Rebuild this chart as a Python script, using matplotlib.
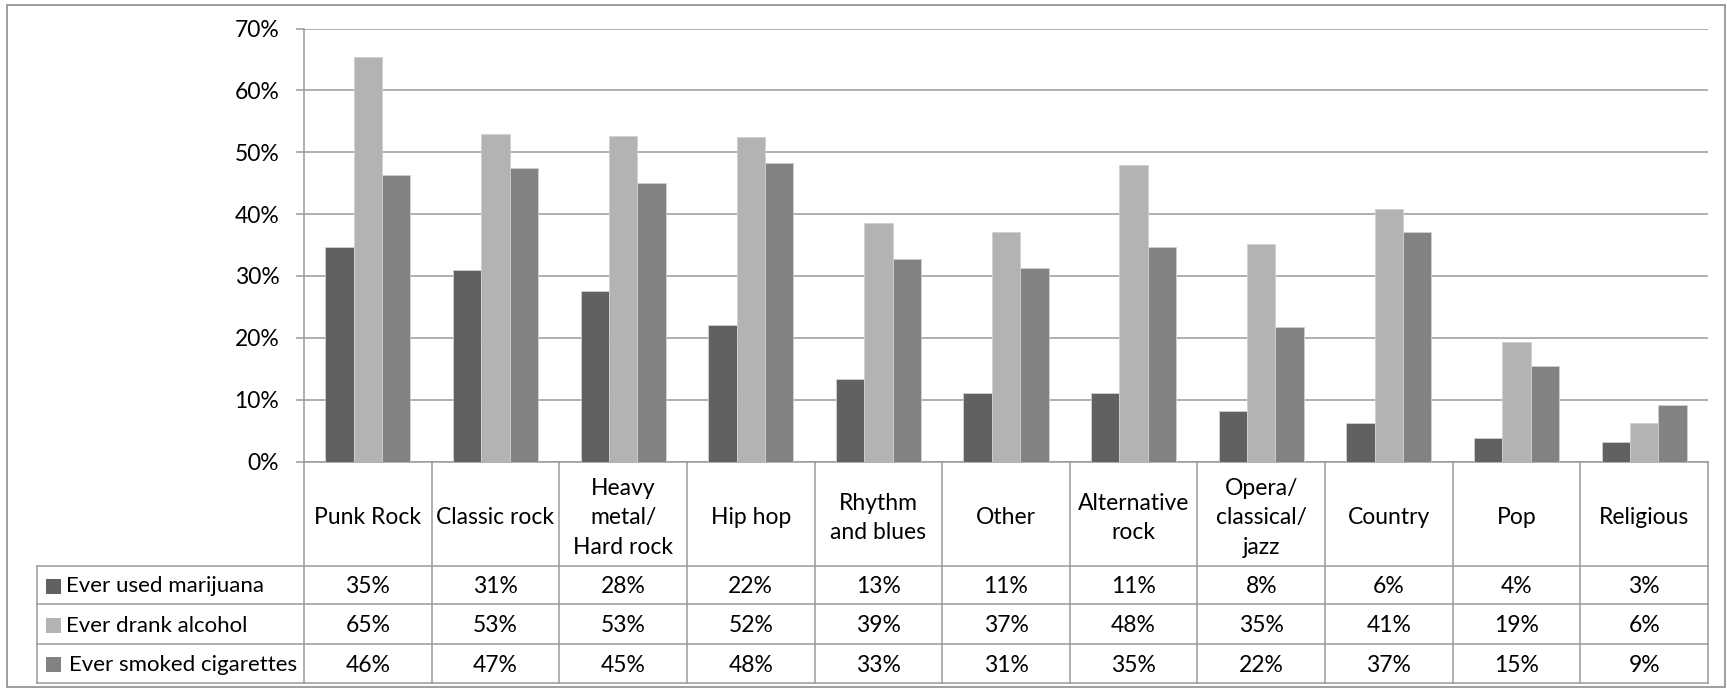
import matplotlib
matplotlib.use("Agg")
import matplotlib.pyplot as plt
from matplotlib.patches import Rectangle
from matplotlib.transforms import blended_transform_factory
import numpy as np

plt.rcParams['font.family'] = ['Lato', 'DejaVu Sans']

categories = ["Punk Rock", "Classic rock", "Heavy\nmetal/\nHard rock", "Hip hop",
              "Rhythm\nand blues", "Other", "Alternative\nrock", "Opera/\nclassical/\njazz",
              "Country", "Pop", "Religious"]
series_names = ["Ever used marijuana", "Ever drank alcohol", "Ever smoked cigarettes"]
marijuana = [34.7, 31.0, 27.6, 22.0, 13.3, 11.1, 11.1, 8.1, 6.2, 3.8, 3.2]
alcohol = [65.4, 52.9, 52.6, 52.4, 38.6, 37.1, 47.9, 35.2, 40.8, 19.4, 6.2]
cigarettes = [46.4, 47.4, 45.1, 48.3, 32.8, 31.3, 34.7, 21.7, 37.1, 15.4, 9.2]
yticks = [0, 10, 20, 30, 40, 50, 60, 70]
colors = ["#616161", "#b3b3b3", "#828282"]

FS = 16.5
W, H = 1727, 689
fig = plt.figure(figsize=(W / 100, H / 100), dpi=100)

# pixel overlay
ov = fig.add_axes([0, 0, 1, 1])
ov.set_xlim(0, W)
ov.set_ylim(H, 0)
ov.axis("off")

L, R, T, B = 304, 1708, 28.6, 461.5
ax = fig.add_axes([L / W, 1 - B / H, (R - L) / W, (B - T) / H])
ax.set_zorder(2)
ax.patch.set_alpha(0)

n = len(categories)
x = np.arange(n)
bw = 1 / 4.5
data = [marijuana, alcohol, cigarettes]
for k, (vals, c) in enumerate(zip(data, colors)):
    ax.bar(x + (k - 1) * bw, vals, width=bw, color=c, edgecolor="#d0d0d0",
           linewidth=0.6, zorder=3)

ax.set_xlim(-0.5, n - 0.5)
ax.set_ylim(0, 70)
ax.set_yticks(yticks)
ax.set_yticklabels([f"{v}%" for v in yticks], fontsize=FS)
ax.set_xticks([])
ax.grid(axis="y", color="#9a9a9a", linewidth=1.1, zorder=0)
for s in ["top", "right"]:
    ax.spines[s].set_visible(False)
for s in ["left", "bottom"]:
    ax.spines[s].set_color("#9a9a9a")
    ax.spines[s].set_linewidth(1.1)
ax.tick_params(axis="y", direction="out", length=5.8, width=1.1, color="#9a9a9a", pad=12)

# table
tr = blended_transform_factory(ax.transData, ov.transData)
lc = "#9a9a9a"
row_y = [566, 604, 644, 683]
hdr_mid = (B + row_y[0]) / 2 + 4
for i in range(n + 1):
    ax.plot([i - 0.5, i - 0.5], [B, row_y[-1]], transform=tr, color=lc, lw=1.1, clip_on=False, zorder=1)
for yy in row_y:
    ov.plot([37, R], [yy, yy], color=lc, lw=1.1)
ov.plot([37, 37], [row_y[0], row_y[-1]], color=lc, lw=1.1)

for i, cat in enumerate(categories):
    ax.text(i, hdr_mid, cat, transform=tr, ha="center", va="center", fontsize=FS,
            linespacing=1.5, clip_on=False)

text_x = [66, 66, 69]
for r, (name, vals, c) in enumerate(zip(series_names, data, colors)):
    yc = (row_y[r] + row_y[r + 1]) / 2 + 1.5
    ov.add_patch(Rectangle((46, yc - 8), 15, 15, facecolor=c, edgecolor="none"))
    ov.text(text_x[r], yc, name, ha="left", va="center", fontsize=16)
    for i, v in enumerate(vals):
        ax.text(i, yc, f"{v:.0f}%", transform=tr, ha="center", va="center",
                fontsize=FS, clip_on=False)

ov.add_patch(Rectangle((7, 4.5), 1718, 682, facecolor="none", edgecolor="#8c8c8c", lw=1.2))

fig.savefig("out.png", dpi=100)
